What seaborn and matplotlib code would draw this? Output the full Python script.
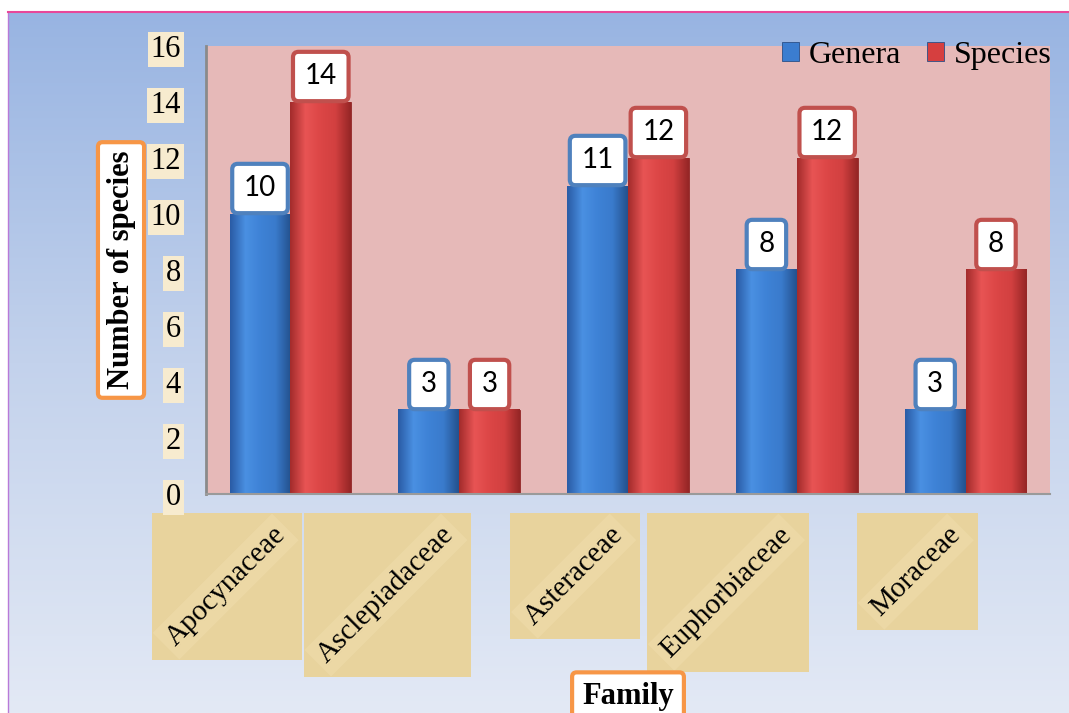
#!/usr/bin/env python3
"""Genera and species counts per plant family (grouped bars)."""
import numpy as np
import pandas as pd
import matplotlib
matplotlib.use("Agg")
import matplotlib.pyplot as plt
import seaborn as sns
from matplotlib.colors import LinearSegmentedColormap
from matplotlib.patches import Rectangle

families = ["Apocynaceae", "Asclepiadaceae", "Asteraceae", "Euphorbiaceae", "Moraceae"]
genera = [10, 3, 11, 8, 3]
species = [14, 3, 12, 12, 8]
series_names = ["Genera", "Species"]
y_ticks = list(range(0, 17, 2))

bar_colors = ["#3b7dd0", "#d63f3f"]
box_edges = ["#4f81bd", "#c0504d"]

df = pd.DataFrame({
    "Family": families * 2,
    "Count": genera + species,
    "Series": [series_names[0]] * len(genera) + [series_names[1]] * len(species),
})

sns.set_style("white")
plt.rcParams["font.family"] = ["Liberation Serif", "DejaVu Serif"]
plt.rcParams["text.color"] = "black"
plt.rcParams["axes.labelcolor"] = "black"
plt.rcParams["xtick.color"] = "black"
plt.rcParams["ytick.color"] = "black"

W, H = 1069, 713
fig = plt.figure(figsize=(W / 100, H / 100), dpi=100)
fig.patch.set_facecolor("white")

# slide background: blue vertical gradient with a thin pink frame on top
bg = fig.add_axes([8 / W, 0, 1 - 8 / W, 1 - 12 / H], zorder=-10)
bg_cmap = LinearSegmentedColormap.from_list("bg", ["#98b4e2", "#c3d2ec", "#e3e9f5"])
bg.imshow(np.linspace(0, 1, 256).reshape(-1, 1), aspect="auto", cmap=bg_cmap,
          extent=[0, 1, 0, 1], origin="upper")
bg.set_xticks([])
bg.set_yticks([])
for side in ["right", "bottom"]:
    bg.spines[side].set_visible(False)
bg.spines["top"].set_color("#e8489a")
bg.spines["top"].set_linewidth(1.5)
bg.spines["left"].set_color("#b87ad8")
bg.spines["left"].set_linewidth(1.0)

ax = fig.add_axes([206 / W, 1 - 494 / H, 844 / W, 448 / H])
sns.barplot(data=df, x="Family", y="Count", hue="Series", palette=bar_colors,
            width=0.72, saturation=1, ax=ax, edgecolor="#2a4f88", linewidth=0.6)
ax.set_facecolor("#e6b9b8")
ax.set_ylim(0, 16)

# 3D-ish shading on each bar
shades = [
    ["#2a5ca6", "#4a90e2", "#3e82d6", "#3a7bcc", "#24528f"],
    ["#a42c2c", "#e85454", "#dc4646", "#d24040", "#962626"],
]
xlim, ylim = ax.get_xlim(), ax.get_ylim()
for container, shade, edge in zip(ax.containers, shades, ["#24528f", "#8e2626"]):
    cmap = LinearSegmentedColormap.from_list("bar", shade)
    for bar in container:
        bar.set_edgecolor(edge)
        x0, w, h = bar.get_x(), bar.get_width(), bar.get_height()
        ax.imshow(np.linspace(0, 1, 64).reshape(1, -1), cmap=cmap, aspect="auto",
                  extent=[x0, x0 + w, 0, h], zorder=1.5)
ax.set_xlim(xlim)
ax.set_ylim(ylim)

# value boxes above bars
for container, edge in zip(ax.containers, box_edges):
    ax.bar_label(container, padding=9, fontsize=20, family=["Lato", "DejaVu Sans"],
                 zorder=4, color="black",
                 bbox=dict(boxstyle="round,pad=0.42,rounding_size=0.2", fc="white",
                           ec=edge, lw=3))

ax.set_yticks(y_ticks)
ax.tick_params(axis="y", length=0, pad=18, labelsize=22)
for lab in ax.get_yticklabels():
    lab.set_bbox(dict(boxstyle="square,pad=0.1", fc="#f7ebcf", ec="none"))

ax.tick_params(axis="x", length=0, pad=20, labelsize=21)
for lab in ax.get_xticklabels():
    lab.set_rotation(45)
    lab.set_ha("right")
    lab.set_bbox(dict(boxstyle="square,pad=0.2", fc="#efdcab", ec="none", alpha=0.6))

ax.set_ylabel("Number of species", fontsize=22, fontweight="bold", va="center",
              bbox=dict(boxstyle="round,pad=0.28,rounding_size=0.15", fc="white",
                        ec="#f79646", lw=3))
ax.yaxis.set_label_coords(-0.1007, 0.5)
ax.set_xlabel("Family", fontsize=22, fontweight="bold", va="center",
              bbox=dict(boxstyle="round,pad=0.33,rounding_size=0.15", fc="white",
                        ec="#f79646", lw=3))
ax.xaxis.set_label_coords(0.5, -0.453)

sns.despine(ax=ax, top=True, right=True)
ax.spines["left"].set_color("#8a8a8a")
ax.spines["left"].set_linewidth(2)
ax.spines["bottom"].set_color("#9a9a9a")
ax.spines["bottom"].set_linewidth(1.5)

handles, labels = ax.get_legend_handles_labels()
ax.legend(handles, labels, loc="upper right", frameon=False, fontsize=23, ncol=2,
          handlelength=0.55, handleheight=0.55, handletextpad=0.3, columnspacing=0.8,
          borderaxespad=0.0, bbox_to_anchor=(1.017, 1.04))

# parchment squares behind the family names
fig.canvas.draw()
renderer = fig.canvas.get_renderer()
inv = fig.transFigure.inverted()
for lab in ax.get_xticklabels():
    bb = lab.get_window_extent(renderer)
    (fx0, fy0), (fx1, fy1) = inv.transform([(bb.x0 - 9, bb.y0 - 9), (bb.x1 + 12, bb.y1 + 9)])
    fig.add_artist(Rectangle((fx0, fy0), fx1 - fx0, fy1 - fy0, transform=fig.transFigure,
                             fc="#e8d39d", ec="none", zorder=-1))

fig.savefig("out.png", dpi=100)
